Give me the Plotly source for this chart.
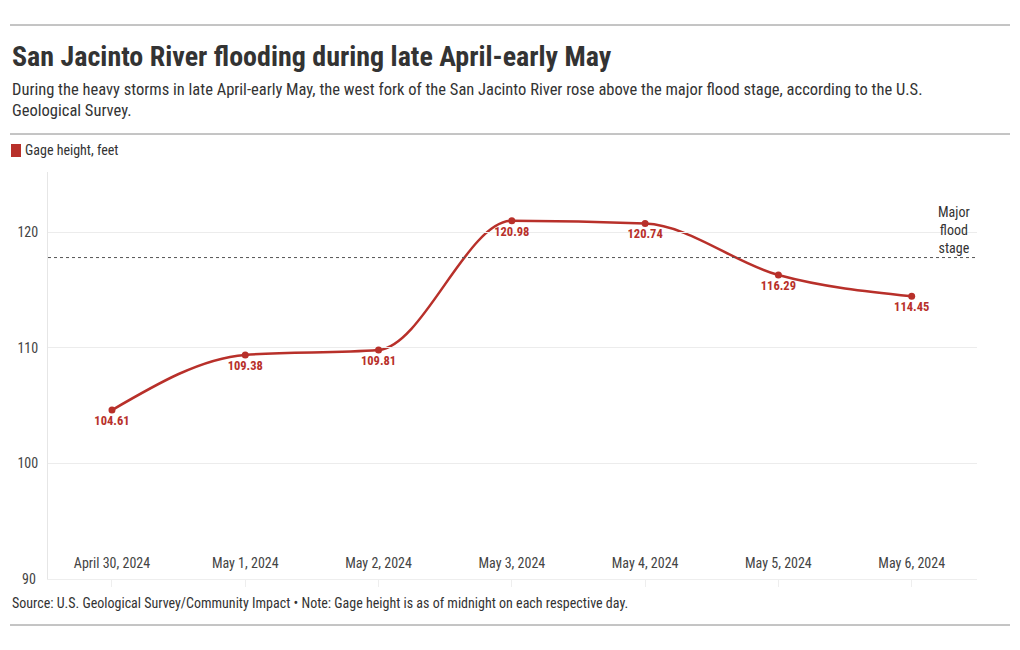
import plotly.graph_objects as go

dates = ["April 30, 2024", "May 1, 2024", "May 2, 2024", "May 3, 2024",
         "May 4, 2024", "May 5, 2024", "May 6, 2024"]
gage_height = [104.61, 109.38, 109.81, 120.98, 120.74, 116.29, 114.45]
flood_stage = 117.8
y_ticks = [90, 100, 110, 120]

FONT = "Roboto Condensed, Liberation Sans Narrow, DejaVu Sans Condensed, Roboto, sans-serif"
RED = "#b8302a"
TXT = "#333333"

L, R, T, B = 48, 977, 172, 579
W, H = R - L, B - T
def px(x): return (x - L) / W
def py(y): return (B - y) / H

idx = list(range(len(dates)))


def sign(v):
    return (v > 0) - (v < 0)


def monotone_path(xs, ys):
    """Monotone cubic (d3 curveMonotoneX style) path in data coordinates."""
    n = len(xs)
    t = [0.0] * n
    for i in range(1, n - 1):
        h0, h1 = xs[i] - xs[i - 1], xs[i + 1] - xs[i]
        s0, s1 = (ys[i] - ys[i - 1]) / h0, (ys[i + 1] - ys[i]) / h1
        p = (s0 * h1 + s1 * h0) / (h0 + h1)
        t[i] = (sign(s0) + sign(s1)) * min(abs(s0), abs(s1), 0.5 * abs(p))
    h = xs[1] - xs[0]
    t[0] = (3 * (ys[1] - ys[0]) / h - t[1]) / 2
    h = xs[-1] - xs[-2]
    t[-1] = (3 * (ys[-1] - ys[-2]) / h - t[-2]) / 2
    d = f"M{xs[0]},{ys[0]}"
    for i in range(n - 1):
        h = (xs[i + 1] - xs[i]) / 3
        d += (f" C{xs[i] + h},{ys[i] + t[i] * h} "
              f"{xs[i + 1] - h},{ys[i + 1] - t[i + 1] * h} {xs[i + 1]},{ys[i + 1]}")
    return d


fig = go.Figure()
fig.add_trace(go.Scatter(
    x=[-0.48, 6.49], y=[flood_stage, flood_stage], mode="lines",
    line=dict(color="#555555", width=1, dash="dot"),
    showlegend=False, hoverinfo="skip",
))
fig.add_trace(go.Scatter(
    x=idx, y=gage_height, mode="markers+text",
    marker=dict(color=RED, size=7),
    text=[f"{v:.2f}" for v in gage_height], textposition="bottom center",
    textfont=dict(family=FONT, size=12.5, color=RED, weight="bold"),
    showlegend=False, hoverinfo="skip", cliponaxis=False,
))

fig.update_xaxes(
    range=[-0.48, 6.49], tickmode="array", tickvals=idx, ticktext=dates,
    ticklabelposition="inside", ticklabelstandoff=8,
    showgrid=False, zeroline=False, showline=True, linecolor="#eeeeee",
    tickfont=dict(family=FONT, size=14, color="#444"),
    ticks="outside", ticklen=7, tickcolor="#eeeeee",
)
fig.update_yaxes(
    range=[90, 125.2], tickvals=y_ticks[1:], showgrid=True, gridcolor="#ececec",
    zeroline=False, showline=True, linecolor="#e6e6e6",
    tickfont=dict(family=FONT, size=14, color="#444"), ticks="", ticklabelstandoff=6,
)

shapes = [dict(type="path", xref="x", yref="y", layer="below",
               path=monotone_path(idx, gage_height),
               line=dict(color=RED, width=2.5))]
for yy in (25, 134, 625):
    shapes.append(dict(type="line", xref="paper", yref="paper",
                       x0=px(10), x1=px(1010), y0=py(yy), y1=py(yy),
                       line=dict(color="#8a8a8a", width=1)))
shapes.append(dict(type="rect", xref="paper", yref="paper",
                   x0=px(11), x1=px(21), y0=py(157), y1=py(144),
                   fillcolor=RED, line=dict(width=0)))

annotations = [
    dict(text=str(y_ticks[0]), x=px(38), y=y_ticks[0], xref="paper", yref="y",
         xanchor="right", yanchor="middle", showarrow=False,
         font=dict(family=FONT, size=14, color="#444")),
    dict(text="<b>San Jacinto River flooding during late April-early May</b>",
         x=px(10), y=py(57), xref="paper", yref="paper", xanchor="left", yanchor="middle",
         showarrow=False, font=dict(family=FONT, size=28, color=TXT)),
    dict(text="During the heavy storms in late April-early May, the west fork of the San Jacinto River rose above the major flood stage, according to the U.S.<br>Geological Survey.",
         x=px(10), y=py(100), xref="paper", yref="paper", xanchor="left", yanchor="middle",
         align="left", showarrow=False, font=dict(family=FONT, size=16.5, color=TXT)),
    dict(text="Gage height, feet",
         x=px(23), y=py(150), xref="paper", yref="paper", xanchor="left", yanchor="middle",
         showarrow=False, font=dict(family=FONT, size=14, color=TXT)),
    dict(text="Major<br>flood<br>stage",
         x=px(954), y=py(230), xref="paper", yref="paper", xanchor="center", yanchor="middle",
         showarrow=False, font=dict(family=FONT, size=14, color=TXT)),
    dict(text="Source: U.S. Geological Survey/Community Impact • Note: Gage height is as of midnight on each respective day.",
         x=px(10), y=py(603), xref="paper", yref="paper", xanchor="left", yanchor="middle",
         showarrow=False, font=dict(family=FONT, size=14, color=TXT)),
]

fig.update_layout(
    width=1020, height=650, autosize=False,
    margin=dict(l=L, r=1020 - R, t=T, b=650 - B),
    plot_bgcolor="white", paper_bgcolor="white",
    shapes=shapes, annotations=annotations, showlegend=False,
    font=dict(family=FONT, color=TXT),
)

fig.write_html("out.html", config={"displayModeBar": False},
               post_script="document.body.style.margin='0';")
